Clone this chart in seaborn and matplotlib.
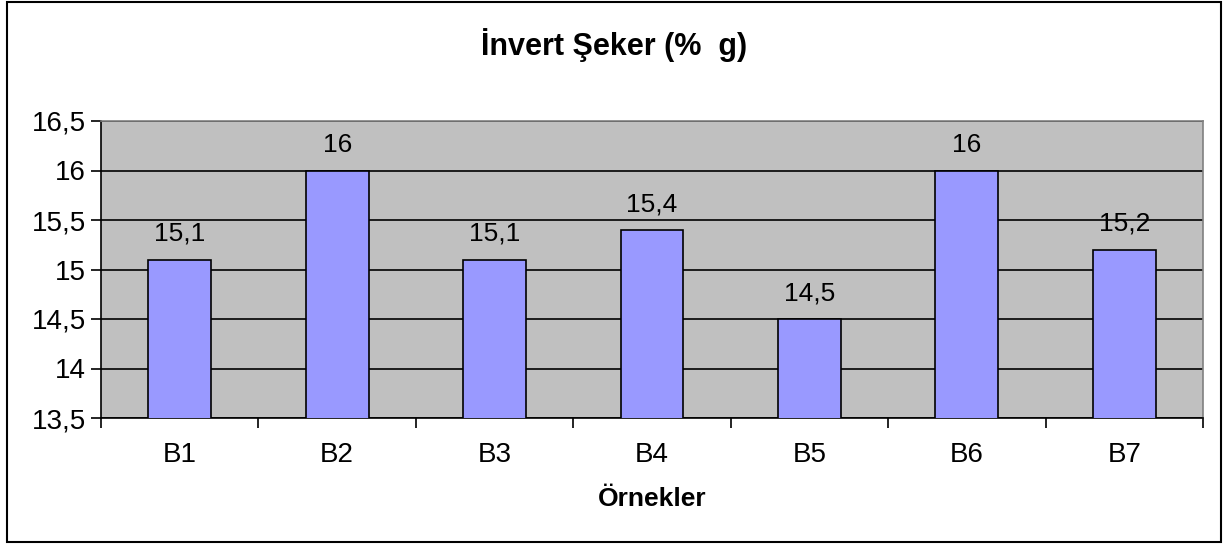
import matplotlib
matplotlib.use("Agg")
import matplotlib.pyplot as plt
import seaborn as sns
import pandas as pd
from matplotlib.patches import Rectangle

# Data
samples = ["B1", "B2", "B3", "B4", "B5", "B6", "B7"]
invert_sugar = [15.1, 16.0, 15.1, 15.4, 14.5, 16.0, 15.2]
y_ticks = [13.5, 14.0, 14.5, 15.0, 15.5, 16.0, 16.5]


def fmt(v):
    # Turkish decimal comma, drop trailing ",0"
    s = f"{v:g}"
    return s.replace(".", ",")


def main():
    sns.set_style("white")
    plt.rcParams["font.family"] = ["Liberation Sans", "DejaVu Sans"]
    plt.rcParams.update({
        "text.color": "black",
        "axes.labelcolor": "black",
        "xtick.color": "black",
        "ytick.color": "black",
    })

    df = pd.DataFrame({"sample": samples, "value": invert_sugar})

    fig = plt.figure(figsize=(12.28, 5.45), dpi=100)
    ax = fig.add_axes([101 / 1228, (545 - 418) / 545, 1102 / 1228, 297 / 545])

    sns.barplot(
        data=df,
        x="sample",
        y="value",
        color="#9999FF",
        saturation=1,
        width=0.4,
        edgecolor="black",
        linewidth=1.2,
        ax=ax,
        zorder=3,
    )

    ax.set_facecolor("#C0C0C0")
    ax.set_ylim(13.5, 16.5)
    ax.set_xlim(-0.5, len(samples) - 0.5)
    ax.set_yticks(y_ticks)
    ax.set_yticklabels([fmt(t) for t in y_ticks], fontsize=20)
    ax.yaxis.grid(True, color="black", linewidth=1.2, zorder=1)
    ax.set_axisbelow(True)

    # x ticks sit between categories, labels at centres
    ax.set_xticks([i + 0.5 for i in range(-1, len(samples))])
    ax.set_xticklabels([])
    ax.set_xticks(range(len(samples)), minor=True)
    ax.set_xticklabels(samples, minor=True, fontsize=20)
    ax.tick_params(axis="x", which="major", direction="out", length=7, width=1.2,
                   color="black", bottom=True)
    ax.tick_params(axis="x", which="minor", length=0, pad=17)
    ax.tick_params(axis="y", direction="out", length=7, width=1.2, color="black",
                   left=True, pad=4)

    for side in ["left", "bottom"]:
        ax.spines[side].set_color("black")
        ax.spines[side].set_linewidth(1.2)
    for side in ["top", "right"]:
        ax.spines[side].set_color("#808080")
        ax.spines[side].set_linewidth(1.2)

    ax.set_xlabel("Örnekler", fontsize=19, fontweight="bold", labelpad=14)
    ax.set_ylabel("")

    # value labels above each bar
    for i, v in enumerate(invert_sugar):
        ax.annotate(fmt(v), (i, v), xytext=(0, 10), textcoords="offset points",
                    ha="center", va="bottom", fontsize=19)

    fig.text(0.5, 1 - 45 / 545, "İnvert Şeker (%  g)", ha="center", va="center",
             fontsize=22, fontweight="bold")

    # outer chart frame
    fig.patches.append(Rectangle((7 / 1228, 3 / 545), 1214 / 1228, 540 / 545,
                                 transform=fig.transFigure, fill=False,
                                 edgecolor="black", linewidth=1.5))

    fig.savefig("out.png", dpi=100)


if __name__ == "__main__":
    main()
